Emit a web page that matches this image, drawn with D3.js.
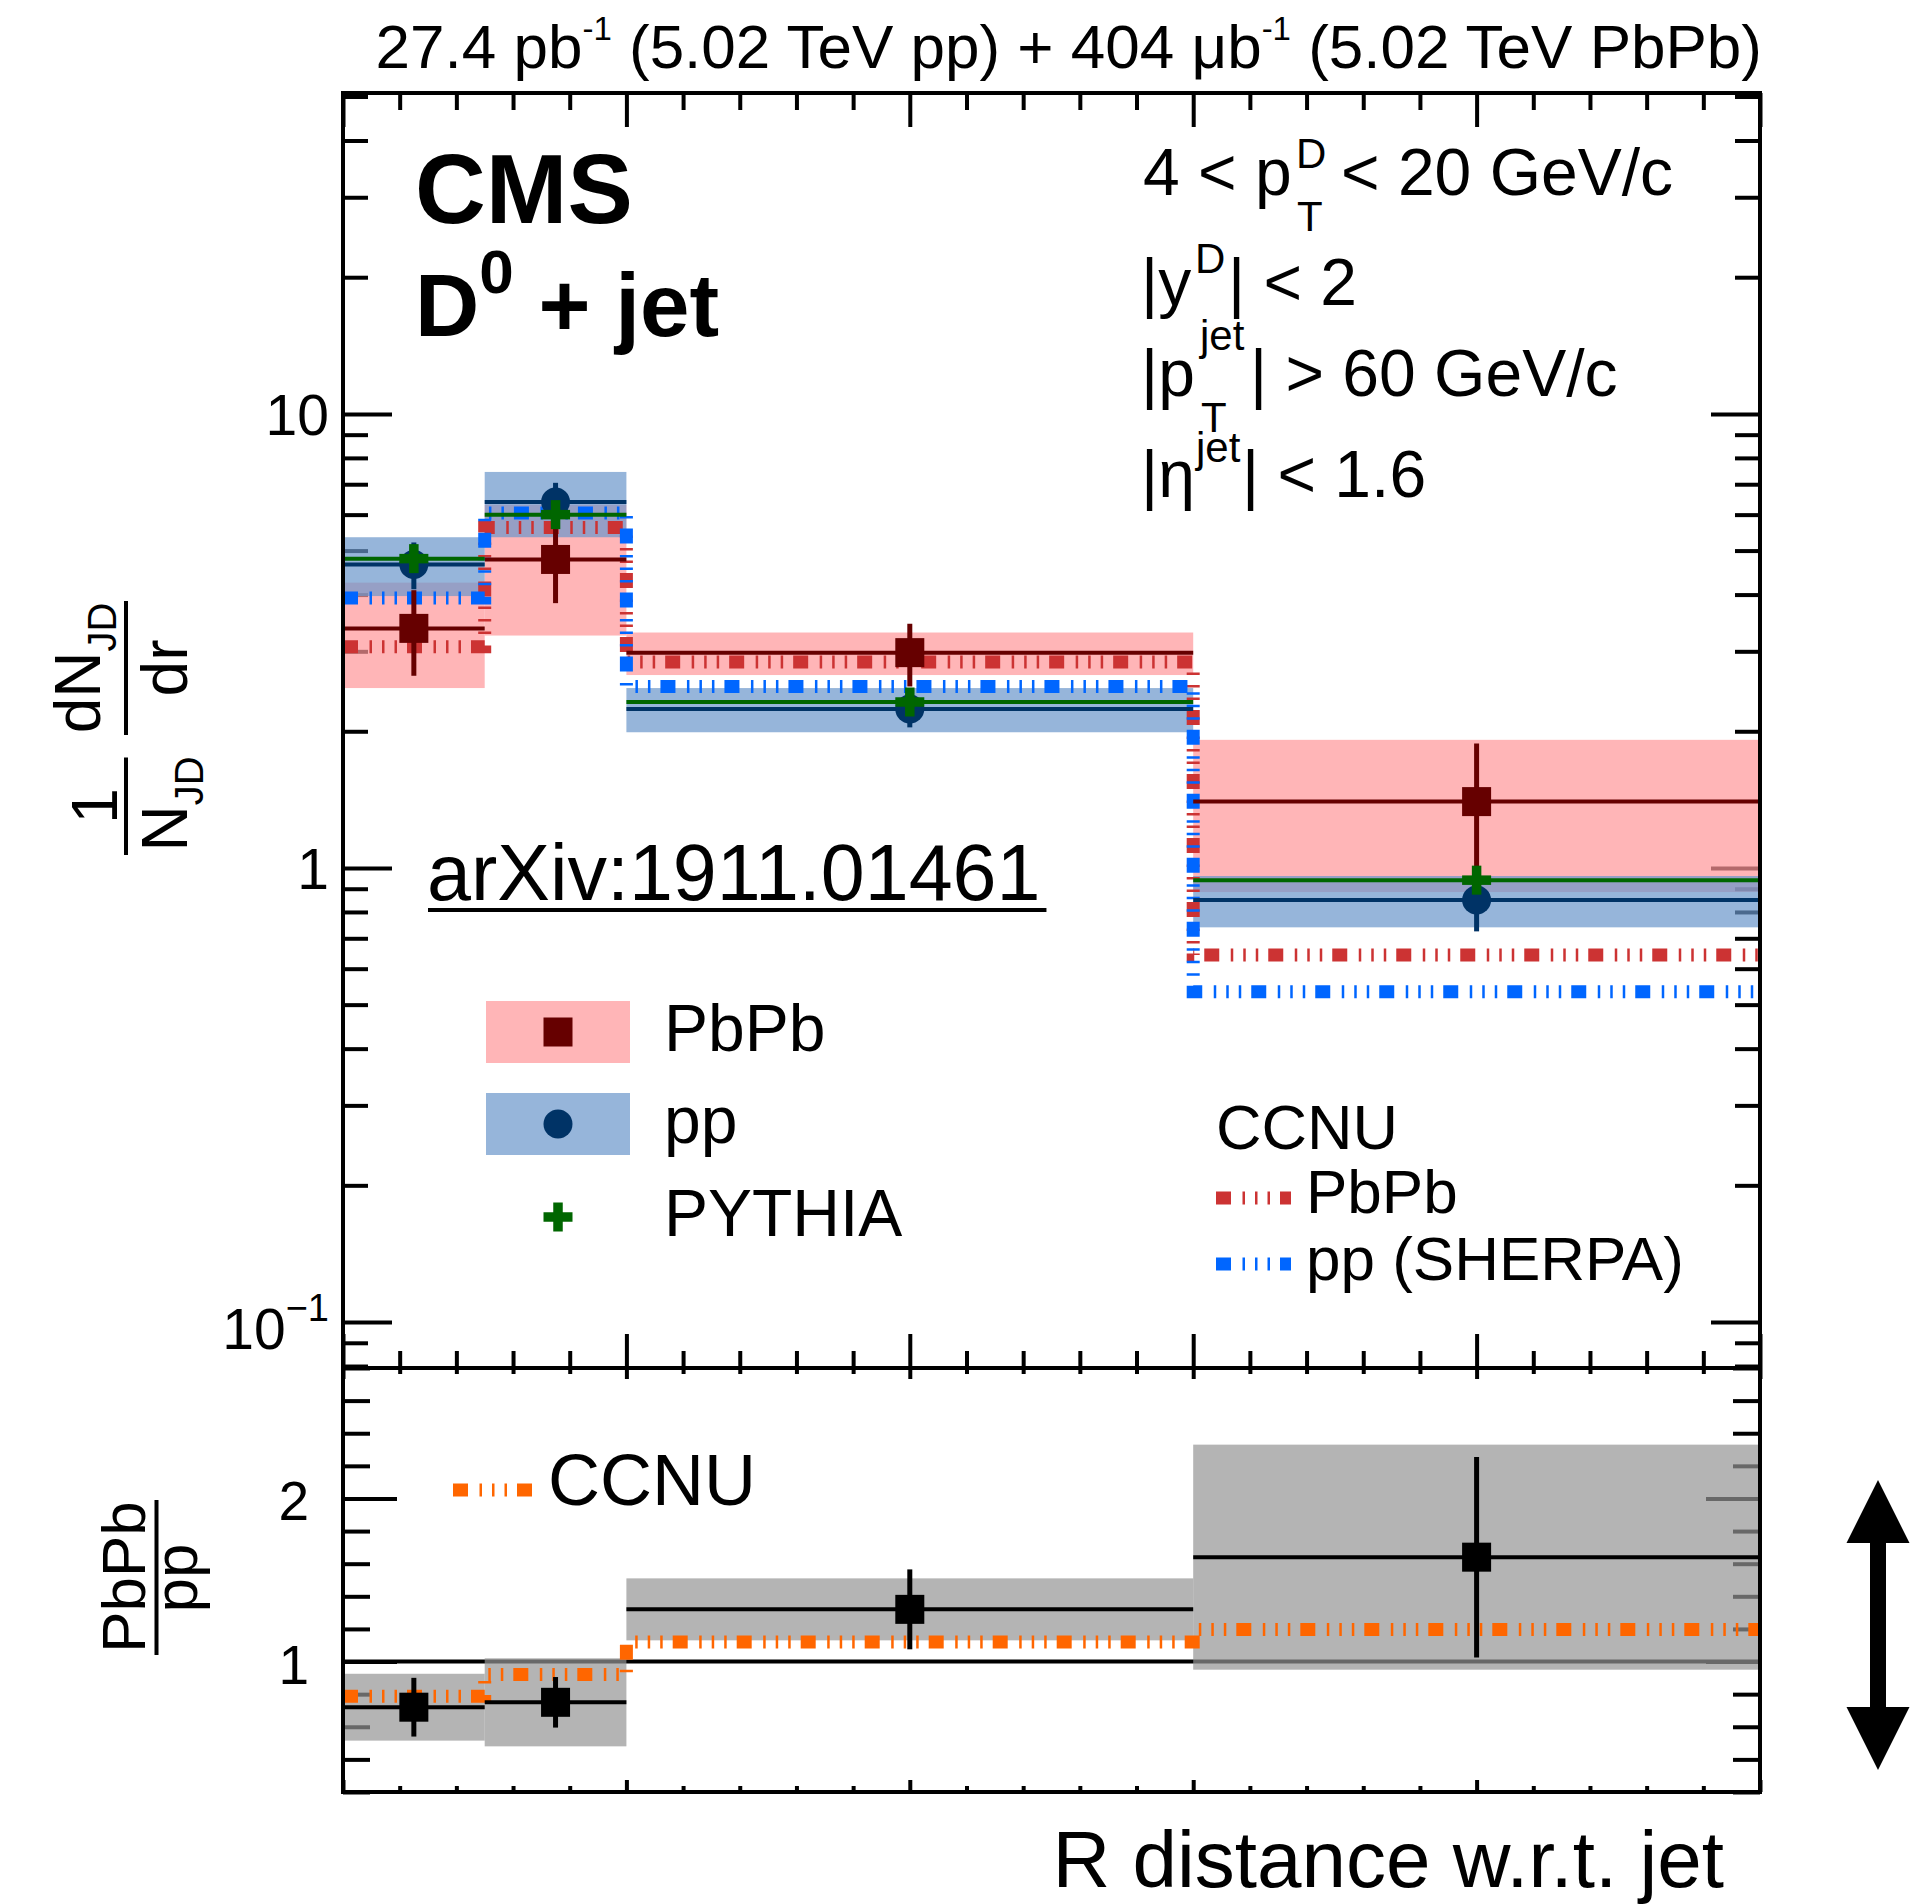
<!DOCTYPE html>
<html>
<head>
<meta charset="utf-8">
<script src="https://cdn.jsdelivr.net/npm/d3@7"></script>
<style>
body { margin: 0; background: #fff; }
svg text { font-family: "Liberation Sans", Arial, Helvetica, sans-serif; fill: #000; white-space: pre; }
</style>
</head>
<body>
<svg id="chart" width="1922" height="1904"></svg>
<script>
// R bins
var binEdges = [0, 0.05, 0.1, 0.3, 0.5];

// upper pad, 1/N_JD dN_JD/dr
var pbpbVal  = [3.37, 4.78, 2.98, 1.40];
var pbpbStat = [0.72, 0.95, 0.47, 0.48];
var pbpbSyst = [0.88, 1.53, 0.32, 0.515];

var ppVal  = [4.66, 6.40, 2.24, 0.85];
var ppStat = [0.55, 0.65, 0.20, 0.125];
var ppSyst = [0.69, 1.05, 0.25, 0.11];

var pythiaVal = [4.80, 6.00, 2.32, 0.94];

var ccnuPbPbVal = [3.07, 5.62, 2.84, 0.643];
var ccnuPPVal   = [3.93, 6.05, 2.51, 0.534];

// lower pad, PbPb / pp
var ratioVal  = [0.72, 0.75, 1.32, 1.64];
var ratioStat = [0.18, 0.155, 0.245, 0.615];
var ratioSyst = [0.205, 0.27, 0.19, 0.69];
var ccnuRatioVal = [0.787, 0.92, 1.12, 1.196];

// tick labels
var logMajorTicks = [0.1, 1, 10];
var logTickBase = ["10", "1", "10"];
var logTickExp  = ["\u22121", "", ""];
var ratioMajorTicks = [1, 2];
var ratioTickLabels = ["1", "2"];

var colPbPb = "#660000", colPP = "#003366", colPythia = "#006600";
var colCcnuPbPb = "#cc3333", colCcnuPP = "#0066ff", colCcnuRatio = "#ff6600";
var dashCcnu = "15,11.5,2.5,10,2.5,10,2.5,10";

var svg = d3.select("#chart");

// pad geometry (window.top is reserved, so no plain "top" here)
var padL = 343, padR = 1760, padT = 93, padM = 1368, padB = 1792;

var x = d3.scaleLinear().domain([0, 0.5]).range([padL, padR]);
var y = d3.scaleLog().domain([0.0792, 50.9]).range([padM, padT]);
var yr = d3.scaleLinear().domain([0.2, 2.8]).range([padB, padM]);

var bins = d3.range(binEdges.length - 1).map(function (i) {
    return {i: i, lo: binEdges[i], hi: binEdges[i + 1], c: (binEdges[i] + binEdges[i + 1]) / 2};
});

// tick values
var xMajor = d3.range(0, 0.5001, 0.1);
var xMinor = d3.range(0, 0.5001, 0.02).filter(function (v) {
    return Math.abs(v * 10 - Math.round(v * 10)) > 1e-6;
});
var logMinor = [];
[0.01, 0.1, 1, 10].forEach(function (dec) {
    for (var k = 2; k <= 9; k++) {
        var v = dec * k;
        if (v > y.domain()[0] && v < y.domain()[1]) logMinor.push(v);
    }
});
var ratioMinor = d3.range(0.2, 2.8001, 0.2).filter(function (v) {
    return Math.abs(v - Math.round(v)) > 1e-6;
});

function ticks(axisFn, scale, values, size, transform) {
    svg.append("g")
        .attr("transform", transform)
        .call(axisFn(scale).tickValues(values).tickSize(size).tickFormat(""))
        .call(function (a) {
            a.select(".domain").remove();
            a.selectAll("text").remove();
            a.selectAll("line").attr("stroke", "#000").attr("stroke-width", 4);
        });
}

// upper pad ticks
ticks(d3.axisLeft, y, logMajorTicks, -49, "translate(" + padL + ",0)");
ticks(d3.axisLeft, y, logMinor, -25, "translate(" + padL + ",0)");
ticks(d3.axisRight, y, logMajorTicks, -49, "translate(" + padR + ",0)");
ticks(d3.axisRight, y, logMinor, -25, "translate(" + padR + ",0)");
ticks(d3.axisTop, x, xMajor, -34, "translate(0," + padT + ")");
ticks(d3.axisTop, x, xMinor, -17, "translate(0," + padT + ")");
ticks(d3.axisBottom, x, xMajor, -34, "translate(0," + padM + ")");
ticks(d3.axisBottom, x, xMinor, -17, "translate(0," + padM + ")");

// lower pad ticks
ticks(d3.axisLeft, yr, ratioMajorTicks, -54, "translate(" + padL + ",0)");
ticks(d3.axisLeft, yr, ratioMinor, -27, "translate(" + padL + ",0)");
ticks(d3.axisRight, yr, ratioMajorTicks, -54, "translate(" + padR + ",0)");
ticks(d3.axisRight, yr, ratioMinor, -27, "translate(" + padR + ",0)");
ticks(d3.axisTop, x, xMajor, -11, "translate(0," + padM + ")");
ticks(d3.axisTop, x, xMinor, -6, "translate(0," + padM + ")");
ticks(d3.axisBottom, x, xMajor, -12, "translate(0," + padB + ")");
ticks(d3.axisBottom, x, xMinor, -6, "translate(0," + padB + ")");

// tick labels
logMajorTicks.forEach(function (v, i) {
    var t = svg.append("text")
        .attr("x", 329)
        .attr("y", y(v) + (logTickExp[i] ? 27 : 21))
        .attr("text-anchor", "end")
        .style("font-size", "57px");
    t.append("tspan").text(logTickBase[i]);
    if (logTickExp[i]) {
        t.append("tspan").attr("dy", -28).style("font-size", "38px").text(logTickExp[i]);
    }
});
ratioMajorTicks.forEach(function (v, i) {
    svg.append("text")
        .attr("x", 309)
        .attr("y", yr(v) + 22)
        .attr("text-anchor", "end")
        .style("font-size", "55px")
        .text(ratioTickLabels[i]);
});

// ratio reference line at 1
svg.append("line")
    .attr("x1", padL).attr("x2", padR)
    .attr("y1", yr(1)).attr("y2", yr(1))
    .attr("stroke", "#000").attr("stroke-width", 4);

// systematic boxes
function bands(scale, vals, systs, color, op) {
    svg.append("g").selectAll("rect")
        .data(bins)
        .enter().append("rect")
        .attr("x", function (d) { return x(d.lo); })
        .attr("width", function (d) { return x(d.hi) - x(d.lo); })
        .attr("y", function (d) { return scale(vals[d.i] + systs[d.i]); })
        .attr("height", function (d) { return scale(vals[d.i] - systs[d.i]) - scale(vals[d.i] + systs[d.i]); })
        .attr("fill", color)
        .attr("fill-opacity", op);
}
bands(y, pbpbVal, pbpbSyst, "#ff9699", 0.7);
bands(y, ppVal, ppSyst, "#6995ca", 0.7);
bands(yr, ratioVal, ratioSyst, "#949494", 0.7);

// step histograms for the CCNU curves
function stepPath(scale, vals) {
    var p = d3.path();
    bins.forEach(function (d, i) {
        if (i === 0) p.moveTo(x(d.lo), scale(vals[i]));
        else p.lineTo(x(d.lo), scale(vals[i]));
        p.lineTo(x(d.hi), scale(vals[i]));
    });
    return p.toString();
}
function ccnu(scale, vals, color) {
    svg.append("path")
        .attr("d", stepPath(scale, vals))
        .attr("fill", "none")
        .attr("stroke", color)
        .attr("stroke-width", 13)
        .attr("stroke-dasharray", dashCcnu);
}
ccnu(y, ccnuPbPbVal, colCcnuPbPb);
ccnu(y, ccnuPPVal, colCcnuPP);
ccnu(yr, ccnuRatioVal, colCcnuRatio);

// data points: horizontal bin line, stat error bar, marker
function points(scale, vals, stats, color, marker) {
    var g = svg.append("g");
    bins.forEach(function (d) {
        var v = vals[d.i];
        g.append("line")
            .attr("x1", x(d.lo)).attr("x2", x(d.hi))
            .attr("y1", scale(v)).attr("y2", scale(v))
            .attr("stroke", color).attr("stroke-width", 4);
        if (stats) {
            g.append("line")
                .attr("x1", x(d.c)).attr("x2", x(d.c))
                .attr("y1", scale(v + stats[d.i])).attr("y2", scale(v - stats[d.i]))
                .attr("stroke", color).attr("stroke-width", 5);
        }
        marker(g, x(d.c), scale(v), color);
    });
}
function square(g, cx, cy, color) {
    g.append("rect").attr("x", cx - 14.5).attr("y", cy - 14.5)
        .attr("width", 29).attr("height", 29).attr("fill", color);
}
function circle(g, cx, cy, color) {
    g.append("circle").attr("cx", cx).attr("cy", cy).attr("r", 14.5).attr("fill", color);
}
function cross(g, cx, cy, color) {
    g.append("rect").attr("x", cx - 14.5).attr("y", cy - 4.75).attr("width", 29).attr("height", 9.5).attr("fill", color);
    g.append("rect").attr("x", cx - 4.75).attr("y", cy - 14.5).attr("width", 9.5).attr("height", 29).attr("fill", color);
}
points(y, pbpbVal, pbpbStat, colPbPb, square);
points(y, ppVal, ppStat, colPP, circle);
points(y, pythiaVal, null, colPythia, cross);
points(yr, ratioVal, ratioStat, "#000", square);

// frames
svg.append("rect").attr("x", padL).attr("y", padT).attr("width", padR - padL).attr("height", padM - padT)
    .attr("fill", "none").attr("stroke", "#000").attr("stroke-width", 4);
svg.append("rect").attr("x", padL).attr("y", padM).attr("width", padR - padL).attr("height", padB - padM)
    .attr("fill", "none").attr("stroke", "#000").attr("stroke-width", 4);

// text helpers
function label(px, py, size, str, weight) {
    return svg.append("text").attr("x", px).attr("y", py)
        .style("font-size", size + "px")
        .style("font-weight", weight || "normal")
        .text(str);
}
function rotText(sx, sy, size, parts) {
    var t = svg.append("text")
        .attr("transform", "translate(" + sx + "," + sy + ") rotate(-90)")
        .attr("text-anchor", "middle")
        .style("font-size", size + "px");
    parts.forEach(function (p) {
        var s = t.append("tspan").text(p.t);
        if (p.dy) s.attr("dy", p.dy);
        if (p.size) s.style("font-size", p.size + "px");
    });
    return t;
}
function vbar(sx, y1, y2) {
    svg.append("line").attr("x1", sx).attr("x2", sx).attr("y1", y1).attr("y2", y2)
        .attr("stroke", "#000").attr("stroke-width", 4);
}

// header
var head = svg.append("text").attr("x", 1762).attr("y", 68).attr("text-anchor", "end").style("font-size", "62px");
head.append("tspan").text("27.4 pb");
head.append("tspan").attr("dy", -28).style("font-size", "33px").text("-1");
head.append("tspan").attr("dy", 28).text(" (5.02 TeV pp) + 404 \u03bcb");
head.append("tspan").attr("dy", -28).style("font-size", "33px").text("-1");
head.append("tspan").attr("dy", 28).text(" (5.02 TeV PbPb)");

// CMS label
label(415, 223, 98, "CMS", "bold");
var dj = label(415, 336, 89, "", "bold");
dj.append("tspan").text("D");
dj.append("tspan").attr("dy", -43).style("font-size", "62px").text("0");
dj.append("tspan").attr("dy", 43).text(" + jet");

// selection text
label(1143, 195, 66, "4 < p");
label(1296, 168, 42, "D");
label(1297, 231, 42, "T");
label(1341, 195, 66, "< 20 GeV/c");

label(1141, 305, 66, "|y");
label(1195, 273, 42, "D");
label(1228, 305, 66, "| < 2");

label(1141, 396, 66, "|p");
label(1200, 350, 42, "jet");
label(1201, 432, 42, "T");
label(1250, 396, 66, "| > 60 GeV/c");

label(1141, 497, 66, "|\u03b7");
label(1196, 462, 42, "jet");
label(1242, 497, 66, "| < 1.6");

// arXiv reference, underlined
var arx = label(427, 900, 79, "arXiv:1911.01461");
var arxLen = arx.node().getComputedTextLength();
svg.append("line").attr("x1", 428).attr("x2", 427 + arxLen + 6)
    .attr("y1", 910).attr("y2", 910).attr("stroke", "#000").attr("stroke-width", 4);

// legend, data
svg.append("rect").attr("x", 486).attr("y", 1001).attr("width", 144).attr("height", 62)
    .attr("fill", "#ff9699").attr("fill-opacity", 0.7);
svg.append("rect").attr("x", 486).attr("y", 1093).attr("width", 144).attr("height", 62)
    .attr("fill", "#6995ca").attr("fill-opacity", 0.7);
var lg = svg.append("g");
square(lg, 558, 1032, colPbPb);
circle(lg, 558, 1124, colPP);
cross(lg, 558, 1217, colPythia);
label(664, 1051, 66, "PbPb");
label(664, 1143, 66, "pp");
label(664, 1236, 66, "PYTHIA");

// legend, CCNU model
function sample(x1, x2, yy, color) {
    svg.append("line").attr("x1", x1).attr("x2", x2).attr("y1", yy).attr("y2", yy)
        .attr("stroke", color).attr("stroke-width", 13).attr("stroke-dasharray", dashCcnu);
}
label(1216, 1149, 63, "CCNU");
sample(1216, 1291, 1198, colCcnuPbPb);
label(1306, 1213, 62, "PbPb");
sample(1216, 1291, 1264, colCcnuPP);
label(1306, 1280, 62, "pp (SHERPA)");

sample(453, 532, 1490, colCcnuRatio);
label(548, 1505, 72, "CCNU");

// axis titles
rotText(117, 806, 64, [{t: "1"}]);
vbar(126, 757.5, 855);
rotText(187, 804, 64, [{t: "N"}, {t: "JD", dy: 16, size: 40}]);
rotText(100, 668, 64, [{t: "dN"}, {t: "JD", dy: 16, size: 40}]);
vbar(126, 601, 735);
rotText(187, 668, 64, [{t: "dr"}]);

rotText(145, 1577, 62, [{t: "PbPb"}]);
vbar(156.5, 1500, 1655);
rotText(197, 1578, 62, [{t: "pp"}]);

svg.append("text").attr("x", 1724).attr("y", 1887).attr("text-anchor", "end")
    .style("font-size", "80px").text("R distance w.r.t. jet");

// double arrow on the right of the ratio pad
var ax = 1878;
var arrow = [
    [ax, 1480], [ax + 31.5, 1543], [ax + 8, 1543], [ax + 8, 1707], [ax + 31.5, 1707],
    [ax, 1770], [ax - 31.5, 1707], [ax - 8, 1707], [ax - 8, 1543], [ax - 31.5, 1543]
];
svg.append("path").attr("d", d3.line()(arrow) + "Z").attr("fill", "#000");
</script>
</body>
</html>
